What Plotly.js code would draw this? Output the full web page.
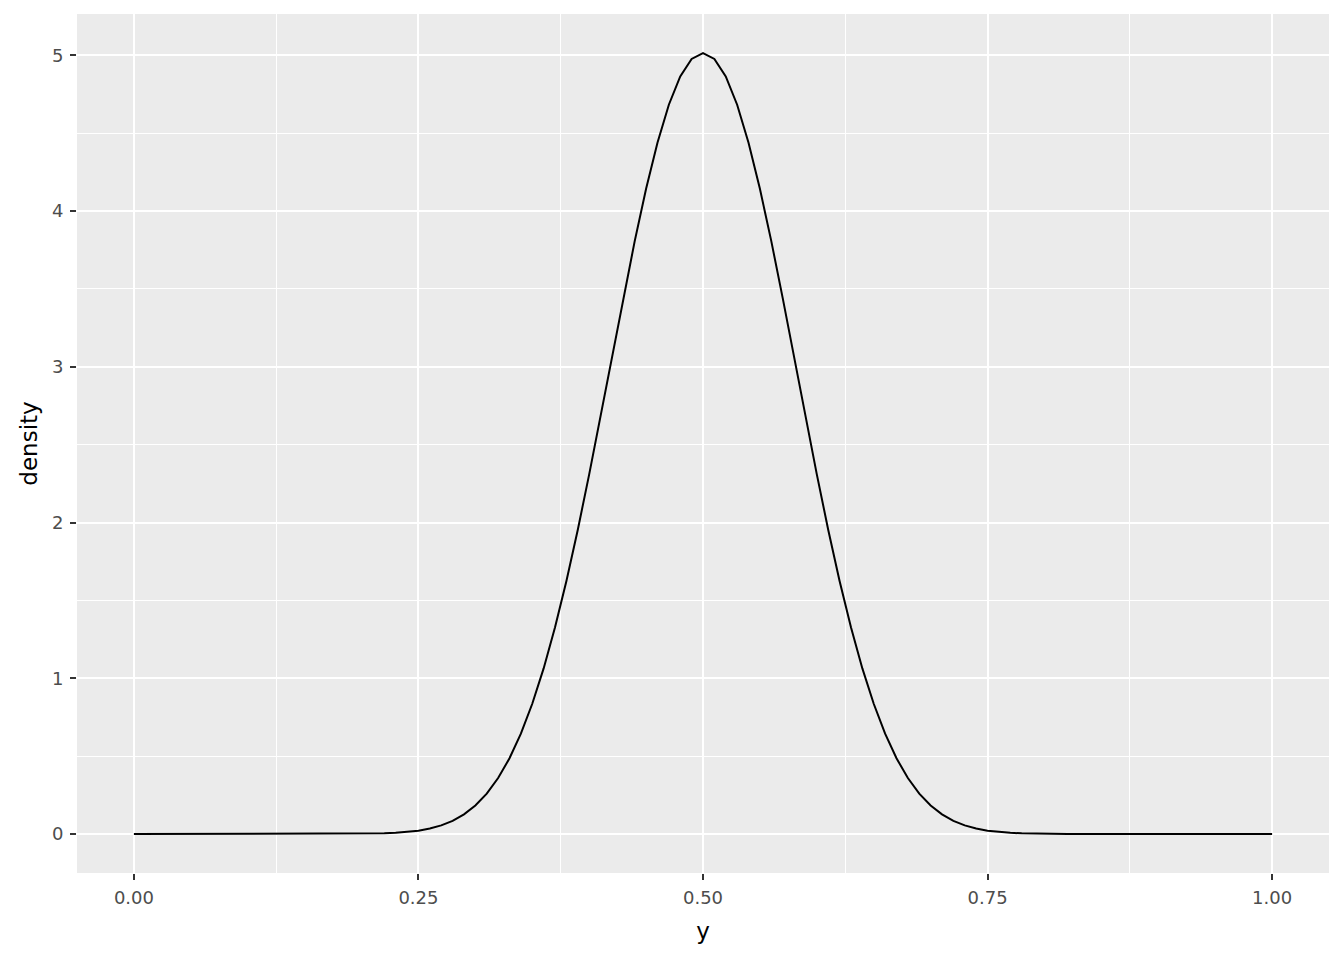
<!DOCTYPE html>
<html>
<head>
<meta charset="utf-8">
<script src="https://cdn.plot.ly/plotly-3.0.1.min.js"></script>
<style>html,body{margin:0;padding:0;background:#fff;}#chart{width:1344px;height:960px;}</style>
</head>
<body>
<div id="chart"></div>
<script>
const yGrid = [0, 0.01, 0.02, 0.03, 0.04, 0.05, 0.06, 0.07, 0.08, 0.09,
  0.10, 0.11, 0.12, 0.13, 0.14, 0.15, 0.16, 0.17, 0.18, 0.19,
  0.20, 0.21, 0.22, 0.23, 0.24, 0.25, 0.26, 0.27, 0.28, 0.29,
  0.30, 0.31, 0.32, 0.33, 0.34, 0.35, 0.36, 0.37, 0.38, 0.39,
  0.40, 0.41, 0.42, 0.43, 0.44, 0.45, 0.46, 0.47, 0.48, 0.49,
  0.50, 0.51, 0.52, 0.53, 0.54, 0.55, 0.56, 0.57, 0.58, 0.59,
  0.60, 0.61, 0.62, 0.63, 0.64, 0.65, 0.66, 0.67, 0.68, 0.69,
  0.70, 0.71, 0.72, 0.73, 0.74, 0.75, 0.76, 0.77, 0.78, 0.79,
  0.80, 0.81, 0.82, 0.83, 0.84, 0.85, 0.86, 0.87, 0.88, 0.89,
  0.90, 0.91, 0.92, 0.93, 0.94, 0.95, 0.96, 0.97, 0.98, 0.99, 1.00];
const density = [0, 0, 0, 0, 0, 0, 0, 0, 0, 0,
  0, 0, 0, 0, 0, 0, 0, 0, 0.0002, 0.0005,
  0.001, 0.0021, 0.0039, 0.0072, 0.0126, 0.0212, 0.0346, 0.0551, 0.0843, 0.126,
  0.183, 0.259, 0.359, 0.486, 0.644, 0.836, 1.063, 1.327, 1.625, 1.954,
  2.309, 2.682, 3.064, 3.443, 3.807, 4.143, 4.439, 4.683, 4.865, 4.977,
  5.015, 4.977, 4.865, 4.683, 4.439, 4.143, 3.807, 3.443, 3.064, 2.682,
  2.309, 1.954, 1.625, 1.327, 1.063, 0.836, 0.644, 0.486, 0.359, 0.259,
  0.183, 0.126, 0.0843, 0.0551, 0.0346, 0.0212, 0.0126, 0.0072, 0.0039, 0.0021,
  0.001, 0.0005, 0.0002, 0, 0, 0, 0, 0, 0, 0,
  0, 0, 0, 0, 0, 0, 0, 0, 0, 0, 0];
const xTicks = [0, 0.25, 0.5, 0.75, 1];
const xTickText = ["0.00", "0.25", "0.50", "0.75", "1.00"];
const yTicks = [0, 1, 2, 3, 4, 5];
const yTickText = ["0", "1", "2", "3", "4", "5"];

const FONT = 'DejaVu Sans, Liberation Sans, Arial, sans-serif';
const trace = {
  x: yGrid, y: density, type: 'scatter', mode: 'lines',
  line: {color: '#000000', width: 2}, hoverinfo: 'skip'
};
const axisCommon = {
  showgrid: true, gridcolor: '#FFFFFF', gridwidth: 2,
  zeroline: false, showline: false,
  ticks: 'outside', ticklen: 6, tickwidth: 2, tickcolor: '#333333',
  tickfont: {family: FONT, size: 18, color: '#4D4D4D'}
};
const titleFont = {family: FONT, size: 23, color: '#000000'};
const layout = {
  width: 1344, height: 960,
  margin: {l: 77, r: 15, t: 14, b: 87},
  paper_bgcolor: '#FFFFFF', plot_bgcolor: '#EBEBEB',
  showlegend: false,
  xaxis: Object.assign({}, axisCommon, {
    range: [-0.05, 1.05], tickmode: 'array', tickvals: xTicks, ticktext: xTickText,
    ticklabelstandoff: 2,
    minor: {tickmode: 'array', tickvals: [0.125, 0.375, 0.625, 0.875], showgrid: true, gridcolor: '#FFFFFF', gridwidth: 1, ticks: ''},
    title: {text: 'y', standoff: 16, font: titleFont}
  }),
  yaxis: Object.assign({}, axisCommon, {
    range: [-0.25075, 5.26575], tickmode: 'array', tickvals: yTicks, ticktext: yTickText,
    ticklabelstandoff: 3,
    minor: {tickmode: 'array', tickvals: [0.5, 1.5, 2.5, 3.5, 4.5], showgrid: true, gridcolor: '#FFFFFF', gridwidth: 1, ticks: ''},
    title: {text: 'density', standoff: 7, font: titleFont}
  })
};
Plotly.newPlot('chart', [trace], layout, {displayModeBar: false, staticPlot: true});
</script>
</body>
</html>
